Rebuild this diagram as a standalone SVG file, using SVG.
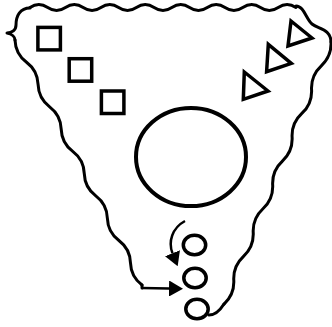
<svg xmlns="http://www.w3.org/2000/svg" width="332" height="327" viewBox="0 0 332 327">
<defs>
<style>
.ln{fill:none;stroke:#000;stroke-width:3;stroke-linecap:round;stroke-linejoin:round}
.sq{fill:#fff;stroke:#000;stroke-width:3.5}
.tr{fill:#fff;stroke:#000;stroke-width:3.5;stroke-linejoin:miter}
.ci{fill:#fff;stroke:#000;stroke-width:3.5}
.ar{fill:none;stroke:#000;stroke-width:2.5}
</style>
<marker id="ah" viewBox="0 0 14 16" markerWidth="14" markerHeight="16" refX="0" refY="8" orient="auto" markerUnits="userSpaceOnUse">
<path d="M0,0 L14,8 L0,16 z" fill="#000"/>
</marker>
</defs>
<rect width="332" height="327" fill="#fff"/>
<g id="outline">
<path class="ln" d="M30 8 C20 8 16 16 16 25 C16 30 12 33 7 33 C12 34 15 37 15 40"/>
<path class="ln" transform="translate(30,7.5)" d="M0 0 q8.87 -6 17.73 0 t17.73 0 t17.73 0 t17.73 0 t17.73 0 t17.73 0 t17.73 0 t17.73 0 t17.73 0 t17.73 0 t17.73 0 t17.73 0 t17.73 0 t17.73 0 t17.73 0"/>
<path class="ln" d="M296 6 C304 6 306 19 312 24 C318 29 331 29 331 42"/>
<path class="ln" transform="translate(15,40) rotate(62.6)" d="M0 0 q12.55 6 25.09 0 t25.09 0 t25.09 0 t25.09 0 t25.09 0 t25.09 0 t25.09 0 t25.09 0 t25.09 0 t25.09 0 t25.09 0"/>
<path class="ln" transform="translate(331,42) rotate(112.2)" d="M0 0 q12.86 -6 25.73 0 t25.73 0 t25.73 0 t25.73 0 t25.73 0 t25.73 0 t25.73 0 t25.73 0 t25.73 0 t25.73 0 t25.73 0"/>
<path class="ln" d="M224 304 C219 312 215 315 209 315"/>
<path class="ln" d="M142 285 L142 288"/>
</g>
<g id="square1"><rect class="sq" x="37.9" y="27.4" width="22.5" height="22.5"/></g>
<g id="square2"><rect class="sq" x="69.2" y="58.7" width="22.5" height="22.5"/></g>
<g id="square3"><rect class="sq" x="101.4" y="91" width="22.5" height="22.5"/></g>
<g id="triangle1"><polygon class="tr" points="291,21 312,38 288,46"/></g>
<g id="triangle2"><polygon class="tr" points="268.3,44.4 291.3,63.3 266.6,71.7"/></g>
<g id="triangle3"><polygon class="tr" points="244.3,72 268,91 243.3,99.4"/></g>
<g id="bigcircle"><ellipse cx="191" cy="157" rx="55" ry="49" fill="#fff" stroke="#000" stroke-width="4"/></g>
<g id="circle1"><ellipse class="ci" cx="194.5" cy="245" rx="11.2" ry="9.8"/></g>
<g id="circle2"><ellipse class="ci" cx="195" cy="278" rx="11.2" ry="9.8"/></g>
<g id="circle3"><ellipse class="ci" cx="197" cy="309" rx="11.2" ry="9.8"/></g>
<g id="connectors">
<path class="ar" d="M185 221 C172 228 168 242 172.5 253.3" marker-end="url(#ah)"/>
<path class="ar" d="M142 288 L169 288.5" marker-end="url(#ah)"/>
</g>
</svg>
